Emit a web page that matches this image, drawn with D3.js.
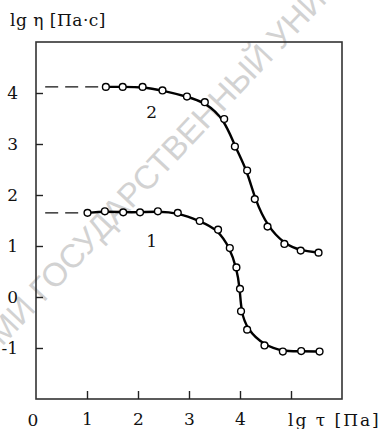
<!DOCTYPE html>
<html>
<head>
<meta charset="utf-8">
<script src="https://cdn.jsdelivr.net/npm/d3@7"></script>
<style>
  body { margin: 0; background: #fff; }
  text { font-family: "DejaVu Serif", "Liberation Serif", serif; }
</style>
</head>
<body>
<script>
// curve 1 : lg tau vs lg eta
var tau1 = [1.01, 1.35, 1.71, 2.04, 2.39, 2.78, 3.21, 3.57, 3.80, 3.93, 4.00, 4.02, 4.14, 4.48, 4.84, 5.20, 5.56];
var eta1 = [1.65, 1.68, 1.66, 1.66, 1.68, 1.65, 1.49, 1.32, 0.96, 0.58, 0.16, -0.28, -0.64, -0.95, -1.07, -1.06, -1.07];

// curve 2
var tau2 = [1.37, 1.70, 2.09, 2.48, 2.96, 3.31, 3.69, 3.90, 4.14, 4.29, 4.54, 4.87, 5.19, 5.54];
var eta2 = [4.12, 4.12, 4.12, 4.05, 3.93, 3.82, 3.49, 2.95, 2.48, 1.92, 1.38, 1.04, 0.91, 0.87];

var xTicks = [1, 2, 3, 4, 5];
var xTickLabels = ["1", "2", "3", "4", ""];
var yTicks = [-1, 0, 1, 2, 3, 4];
var curveNames = ["1", "2"];

window.onload = function() {
	drawChart();
};

function drawChart() {
	var width = 385, height = 429;
	var fontSize = "17px";

	var svg = d3.select("body")
				.append("svg")
				.attr("width", width)
				.attr("height", height);

	svg.append("rect")
	   .attr("width", width)
	   .attr("height", height)
	   .attr("fill", "#fff");

	// watermark in the background
	svg.append("text")
	   .attr("transform", "translate(2,347) rotate(-46.7)")
	   .style("font-family", "'Liberation Sans', Arial, sans-serif")
	   .style("font-size", "33px")
	   .attr("fill", "#d2d2d2")
	   .text("МИ ГОСУДАРСТВЕННЫЙ УНИ");

	var xScale = d3.scaleLinear().domain([0, 6]).range([36, 342]);
	var yScale = d3.scaleLinear().domain([-2, 5]).range([399, 42]);

	// frame
	svg.append("rect")
	   .attr("x", xScale(0))
	   .attr("y", yScale(5))
	   .attr("width", xScale(6) - xScale(0))
	   .attr("height", yScale(-2) - yScale(5))
	   .attr("fill", "none")
	   .attr("stroke", "#333")
	   .attr("stroke-width", 1.6);

	// x axis, ticks point inwards
	var xAxis = svg.append("g")
				   .attr("transform", "translate(0," + yScale(-2) + ")")
				   .call(d3.axisBottom(xScale)
				   		.tickValues(xTicks)
				   		.tickSize(-8)
				   		.tickPadding(14)
				   		.tickFormat(function(d, i) { return xTickLabels[i]; }));
	xAxis.select(".domain").remove();
	xAxis.selectAll("line").attr("stroke", "#222").attr("stroke-width", 1.4);
	xAxis.selectAll("text")
		 .style("font-size", fontSize)
		 .attr("fill", "#111");

	// "0" at the corner
	svg.append("text")
	   .attr("x", xScale(0) - 3)
	   .attr("y", 426)
	   .style("text-anchor", "middle")
	   .style("font-size", fontSize)
	   .attr("fill", "#111")
	   .text("0");

	// y axis, ticks point inwards
	var yAxis = svg.append("g")
				   .attr("transform", "translate(" + xScale(0) + ",0)")
				   .call(d3.axisLeft(yScale)
				   		.tickValues(yTicks)
				   		.tickSize(-7)
				   		.tickPadding(18)
				   		.tickFormat(function(d) { return d < 0 ? "-" + Math.abs(d) : d; }));
	yAxis.select(".domain").remove();
	yAxis.selectAll("line").attr("stroke", "#222").attr("stroke-width", 1.4);
	yAxis.selectAll("text")
		 .style("font-size", fontSize)
		 .attr("fill", "#111");

	// axis titles
	svg.append("text")
	   .attr("x", 10)
	   .attr("y", 26)
	   .style("font-size", fontSize)
	   .style("letter-spacing", "0.5px")
	   .attr("fill", "#111")
	   .text("lg η [Па·c]");

	svg.append("text")
	   .attr("x", xScale(5) - 3)
	   .attr("y", 426)
	   .style("font-size", fontSize)
	   .style("letter-spacing", "2px")
	   .attr("fill", "#111")
	   .text("lg τ [Па]");

	var series = [
		d3.zip(tau1, eta1),
		d3.zip(tau2, eta2)
	];

	var line = d3.line()
				 .x(function(d) { return xScale(d[0]); })
				 .y(function(d) { return yScale(d[1]); })
				 .curve(d3.curveBasis);

	series.forEach(function(data, i) {
		// dashed extrapolation to the axis
		svg.append("line")
		   .attr("x1", xScale(0.18))
		   .attr("x2", xScale(data[0][0]))
		   .attr("y1", yScale(data[0][1]))
		   .attr("y2", yScale(data[0][1]))
		   .attr("stroke", "#111")
		   .attr("stroke-width", 1.3)
		   .attr("stroke-dasharray", "13,7");

		svg.append("path")
		   .datum(data)
		   .attr("d", line)
		   .attr("fill", "none")
		   .attr("stroke", "#000")
		   .attr("stroke-width", 2.4);

		svg.selectAll(".pt" + i)
		   .data(data)
		   .enter()
		   .append("circle")
		   .attr("class", "pt" + i)
		   .attr("cx", function(d) { return xScale(d[0]); })
		   .attr("cy", function(d) { return yScale(d[1]); })
		   .attr("r", 3.4)
		   .attr("fill", "#fff")
		   .attr("stroke", "#000")
		   .attr("stroke-width", 1.4);
	});

	// curve numbers
	svg.append("text")
	   .attr("x", xScale(2.27))
	   .attr("y", 247)
	   .style("text-anchor", "middle")
	   .style("font-size", fontSize)
	   .attr("fill", "#111")
	   .text(curveNames[0]);

	svg.append("text")
	   .attr("x", xScale(2.27))
	   .attr("y", 118)
	   .style("text-anchor", "middle")
	   .style("font-size", fontSize)
	   .attr("fill", "#111")
	   .text(curveNames[1]);
}
</script>
</body>
</html>
